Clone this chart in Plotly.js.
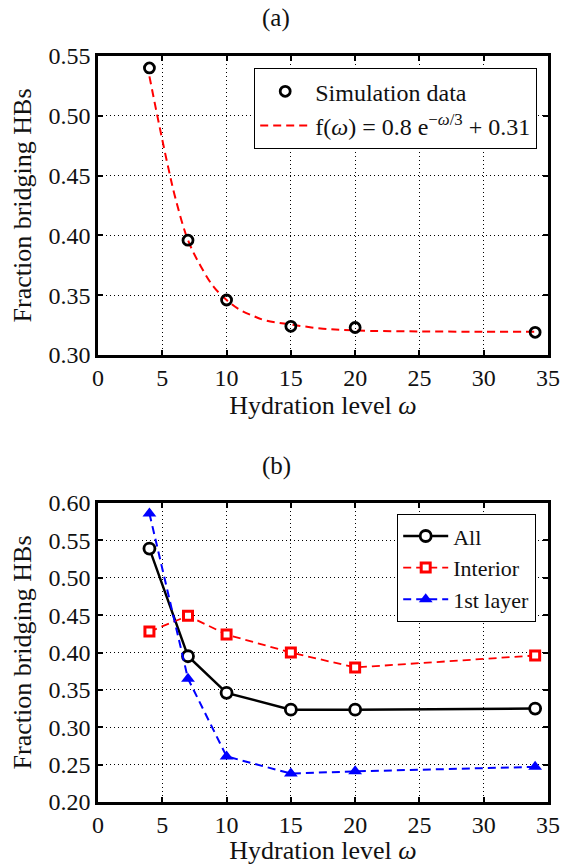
<!DOCTYPE html>
<html>
<head>
<meta charset="utf-8">
<script src="https://cdn.plot.ly/plotly-3.0.1.min.js"></script>
<style>html,body{margin:0;padding:0;background:#fff;}#chart{width:563px;height:865px;}</style>
</head>
<body>
<div id="chart"></div>
<script>
// ---- Panel (a) data ----
const hydration = [4, 7, 10, 15, 20, 34];
const simData = [0.540, 0.396, 0.346, 0.324, 0.323, 0.319];
const fitX = [4, 4.5, 5, 5.5, 6, 7, 8, 9, 10, 11, 12, 13, 15, 17.5, 20, 25, 30, 34];
const fitY = [0.533, 0.506, 0.480, 0.455, 0.432, 0.396, 0.374, 0.357, 0.346, 0.338, 0.333, 0.329, 0.3255, 0.322, 0.3205, 0.3197, 0.3195, 0.3195];

// ---- Panel (b) data ----
const allY = [0.539, 0.395, 0.346, 0.3235, 0.3235, 0.325];
const interiorY = [0.428, 0.449, 0.424, 0.400, 0.380, 0.396];
const firstLayerY = [0.586, 0.365, 0.261, 0.238, 0.241, 0.247];

const xTicks = [0, 5, 10, 15, 20, 25, 30, 35];
const yTicksA = [0.30, 0.35, 0.40, 0.45, 0.50, 0.55];
const yTicksB = [0.20, 0.25, 0.30, 0.35, 0.40, 0.45, 0.50, 0.55, 0.60];

const FONT = "'Liberation Serif', 'DejaVu Serif', serif";
const W = 563, H = 865;
const px = v => v / W;
const py = v => 1 - v / H;

const dashed = "8px,5px";

const traces = [
  { x: fitX, y: fitY, type: "scatter", mode: "lines", xaxis: "x", yaxis: "y",
    name: "f(<i>ω</i>) = 0.8 e<sup>−<i>ω</i>/3</sup> + 0.31",
    line: { color: "#ff0000", width: 2, dash: dashed, shape: "spline", smoothing: 1 }, legend: "legend" },
  { x: hydration, y: simData, type: "scatter", mode: "markers", xaxis: "x", yaxis: "y",
    name: "Simulation data",
    marker: { symbol: "circle-open", size: 10, color: "#000", line: { width: 2.8, color: "#000" } }, legend: "legend" },

  { x: hydration, y: allY, type: "scatter", mode: "lines+markers", xaxis: "x2", yaxis: "y2",
    name: "All", line: { color: "#000", width: 2.4 },
    marker: { symbol: "circle", size: 11, color: "#fff", line: { width: 2.8, color: "#000" } }, legend: "legend2" },
  { x: hydration, y: interiorY, type: "scatter", mode: "lines+markers", xaxis: "x2", yaxis: "y2",
    name: "Interior", line: { color: "#ff0000", width: 1.8, dash: dashed },
    marker: { symbol: "square", size: 9, color: "#fff", line: { width: 3, color: "#ff0000" } }, legend: "legend2" },
  { x: hydration, y: firstLayerY, type: "scatter", mode: "lines+markers", xaxis: "x2", yaxis: "y2",
    name: "1st layer", line: { color: "#0000ff", width: 2, dash: dashed },
    marker: { symbol: "triangle-up", size: 12, color: "#0000ff", line: { width: 0 } }, legend: "legend2" }
];

const axisCommon = {
  showline: true, linecolor: "#000", linewidth: 2.6, mirror: "allticks",
  ticks: "inside", ticklen: 5, tickwidth: 2, tickcolor: "#000",
  showgrid: true, gridcolor: "#000", gridwidth: 1, griddash: "1px,3px",
  zeroline: false, tickfont: { family: FONT, size: 24, color: "#111" }
};

const xaxisBase = Object.assign({}, axisCommon, {
  range: [0, 35], tickvals: xTicks, ticktext: xTicks.map(String),
  domain: [px(98), px(548)],
  title: { text: "Hydration level <i>ω</i>", font: { family: FONT, size: 26, color: "#111" }, standoff: 4 }
});

const layout = {
  width: W, height: H,
  margin: { l: 0, r: 0, t: 0, b: 0 },
  paper_bgcolor: "#fff", plot_bgcolor: "#fff",
  showlegend: true,
  font: { family: FONT, color: "#111" },
  xaxis: Object.assign({}, xaxisBase, { anchor: "y" }),
  yaxis: Object.assign({}, axisCommon, {
    anchor: "x", range: [0.30, 0.55], tickvals: yTicksA, ticktext: yTicksA.map(v => v.toFixed(2)),
    domain: [py(355), py(56)],
    title: { text: "Fraction bridging HBs", font: { family: FONT, size: 26, color: "#111" }, standoff: 10 }
  }),
  xaxis2: Object.assign({}, xaxisBase, { anchor: "y2" }),
  yaxis2: Object.assign({}, axisCommon, {
    anchor: "x2", range: [0.20, 0.60], tickvals: yTicksB, ticktext: yTicksB.map(v => v.toFixed(2)),
    domain: [py(802), py(503)],
    title: { text: "Fraction bridging HBs", font: { family: FONT, size: 26, color: "#111" }, standoff: 10 }
  }),
  legend: {
    x: px(537), y: py(68), xanchor: "right", yanchor: "top",
    bgcolor: "#fff", bordercolor: "#000", borderwidth: 1.2,
    font: { family: FONT, size: 24, color: "#111" }, traceorder: "reversed",
    itemwidth: 50, tracegroupgap: 0
  },
  legend2: {
    x: px(536), y: py(514), xanchor: "right", yanchor: "top",
    bgcolor: "#fff", bordercolor: "#000", borderwidth: 1.2,
    font: { family: FONT, size: 22, color: "#111" }, traceorder: "normal",
    itemwidth: 45, tracegroupgap: 0
  },
  annotations: [
    { text: "(a)", x: px(276), y: py(18), xref: "paper", yref: "paper", showarrow: false,
      xanchor: "center", yanchor: "middle", font: { family: FONT, size: 25, color: "#111" } },
    { text: "(b)", x: px(276), y: py(466), xref: "paper", yref: "paper", showarrow: false,
      xanchor: "center", yanchor: "middle", font: { family: FONT, size: 25, color: "#111" } }
  ]
};

Plotly.newPlot("chart", traces, layout, { displayModeBar: false, staticPlot: true });
</script>
</body>
</html>
